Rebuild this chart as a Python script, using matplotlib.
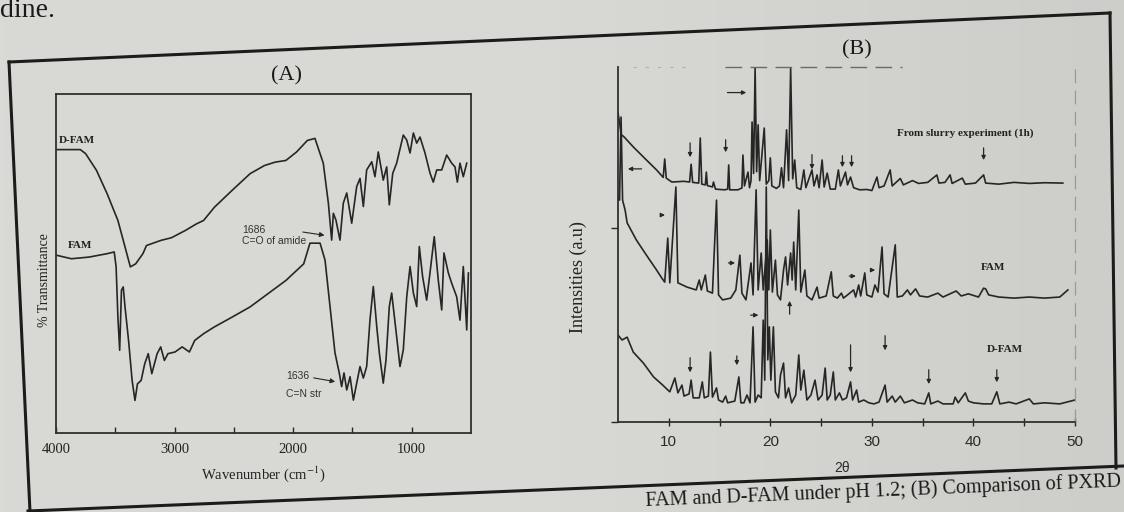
import matplotlib
matplotlib.use("Agg")
import matplotlib.pyplot as plt
import numpy as np
from matplotlib.lines import Line2D
from matplotlib.colors import LinearSegmentedColormap

# ---------------- Panel A: FTIR (% transmittance, relative units) ----------------
dfam_wn = [3990, 3795, 3750, 3659, 3569, 3478, 3418, 3373, 3328, 3267,
           3237, 3117, 3026, 2906, 2815, 2755, 2664, 2514, 2363, 2242,
           2152, 2061, 1971, 1880, 1816, 1746, 1703, 1675, 1661, 1639,
           1605, 1577, 1548, 1506, 1464, 1436, 1408, 1380, 1337, 1310,
           1282, 1240, 1211, 1189, 1160, 1127, 1071, 1042, 1014, 986,
           958, 930, 888, 846, 818, 789, 747, 705, 663, 635,
           615, 593, 565, 536]
dfam_t = [83.6, 83.6, 82.4, 77.5, 70.6, 62.7, 54.9, 49.0, 49.9, 52.9,
          55.3, 56.8, 57.6, 59.8, 61.7, 62.7, 66.6, 71.6, 76.5, 78.9,
          79.9, 80.4, 82.9, 86.3, 86.9, 79.6, 67.8, 56.9, 64.8, 62.8,
          56.9, 67.8, 70.8, 61.9, 72.7, 75.1, 66.8, 77.6, 80.0, 75.6,
          82.9, 74.6, 78.5, 67.3, 76.6, 79.6, 87.9, 86.4, 82.6, 88.5,
          85.5, 87.3, 82.6, 76.7, 74.0, 77.6, 77.6, 82.0, 79.6, 78.5,
          74.0, 79.6, 75.6, 79.6]

fam_wn = [3991, 3870, 3720, 3569, 3509, 3493, 3478, 3463, 3448, 3433,
          3418, 3388, 3358, 3334, 3313, 3282, 3252, 3222, 3192, 3147,
          3117, 3086, 3056, 2996, 2936, 2875, 2830, 2755, 2664, 2514,
          2363, 2212, 2061, 1911, 1858, 1773, 1731, 1689, 1647, 1611,
          1591, 1571, 1548, 1520, 1492, 1464, 1436, 1408, 1380, 1352,
          1324, 1295, 1273, 1240, 1217, 1189, 1169, 1127, 1099, 1071,
          1042, 1014, 986, 958, 936, 908, 874, 846, 810, 776,
          747, 728, 691, 663, 621, 593, 565, 536, 522]
fam_t = [52.4, 51.4, 51.9, 52.9, 53.4, 49.0, 34.2, 24.4, 42.1, 43.1,
         37.2, 27.3, 15.5, 9.6, 14.5, 15.5, 20.4, 23.4, 17.5, 23.4,
         25.4, 21.4, 23.4, 23.9, 25.4, 23.9, 27.3, 29.3, 31.3, 34.2,
         37.2, 41.1, 45.0, 49.9, 56.0, 56.0, 51.0, 37.3, 23.6, 17.7,
         13.7, 17.7, 12.7, 16.6, 9.7, 14.7, 19.6, 16.2, 19.6, 33.3,
         43.2, 31.4, 23.6, 14.7, 21.5, 37.3, 41.3, 28.4, 19.6, 24.5,
         40.2, 49.1, 41.3, 37.3, 55.0, 46.1, 39.2, 47.2, 57.9, 45.1,
         36.3, 53.1, 47.2, 44.2, 40.2, 33.3, 49.1, 30.4, 47.2]

a_major_ticks = [4000, 3000, 2000, 1000]
a_minor_ticks = [3500, 2500, 1500]

# ---------------- Panel B: PXRD (intensity, relative units) ----------------
slurry_2t = [5.0, 5.15, 5.3, 5.6, 6.5, 7.8, 8.8, 9.45, 9.6, 9.75,
             10.3, 11.5, 12.05, 12.2, 12.35, 12.95, 13.1, 13.25, 13.6, 13.7,
             13.8, 14.3, 14.4, 14.6, 15.5, 15.8, 15.9, 16.0, 16.8, 17.2,
             17.3, 17.45, 17.8, 17.95, 18.1, 18.2, 18.35, 18.5, 18.65, 18.8,
             18.95, 19.4, 19.6, 19.85, 20.0, 20.15, 20.6, 20.9, 21.1, 21.3,
             21.6, 21.8, 22.0, 22.2, 22.4, 22.6, 23.0, 23.3, 23.5, 24.1,
             24.3, 24.6, 24.8, 25.1, 25.3, 25.6, 25.9, 26.4, 26.7, 26.9,
             27.4, 27.6, 27.9, 28.2, 28.8, 29.5, 30.0, 30.5, 30.7, 31.2,
             31.8, 32.0, 32.8, 33.1, 34.0, 34.6, 35.5, 36.4, 36.6, 37.2,
             37.7, 37.9, 38.9, 39.2, 40.2, 41.0, 41.2, 42.5, 44.0, 45.5,
             47.0, 48.8]
slurry_i = [87.0, 84.5, 81.0, 80.3, 77.5, 73.8, 71.0, 68.9, 74.1, 68.7,
            67.6, 67.8, 67.6, 72.6, 67.5, 67.3, 80.0, 67.0, 66.8, 70.4,
            66.6, 66.2, 67.6, 65.6, 65.4, 65.6, 72.4, 65.4, 65.4, 65.9,
            75.2, 66.5, 70.4, 66.0, 68.0, 84.5, 70.0, 99.7, 70.5, 83.7,
            68.0, 82.8, 67.0, 68.0, 74.4, 66.5, 65.8, 66.5, 71.6, 66.0,
            82.3, 68.0, 99.7, 68.5, 73.8, 66.0, 65.5, 71.0, 66.0, 71.0,
            66.5, 69.6, 66.0, 73.8, 66.2, 70.1, 65.6, 65.6, 71.0, 66.5,
            70.4, 66.8, 69.0, 66.0, 65.4, 65.5, 65.2, 69.0, 66.0, 66.5,
            71.0, 66.5, 68.6, 66.8, 68.0, 67.2, 67.5, 69.6, 67.3, 67.5,
            69.6, 67.2, 68.7, 67.0, 67.3, 69.6, 67.3, 67.0, 67.5, 67.2,
            67.4, 67.3]

fam_2t = [5.0, 5.15, 5.3, 5.45, 5.7, 5.9, 6.8, 7.8, 8.8, 9.3,
          9.6, 9.9, 10.1, 10.7, 10.9, 11.8, 12.7, 13.0, 13.2, 13.6,
          13.8, 14.3, 14.7, 14.9, 15.3, 16.1, 16.6, 17.0, 17.2, 17.6,
          18.1, 18.3, 18.6, 18.8, 19.1, 19.3, 19.7, 19.85, 20.0, 20.2,
          20.5, 20.7, 21.0, 21.3, 21.5, 21.7, 22.0, 22.15, 22.3, 22.5,
          22.8, 23.0, 23.4, 23.6, 24.1, 24.6, 24.8, 25.5, 26.0, 26.2,
          26.6, 27.0, 27.2, 27.6, 28.2, 28.4, 28.7, 28.9, 29.3, 29.5,
          30.0, 30.3, 30.6, 31.0, 31.2, 31.6, 32.3, 32.5, 33.0, 33.5,
          33.8, 34.3, 34.7, 35.5, 36.5, 37.0, 38.3, 38.8, 39.5, 40.5,
          41.0, 41.2, 41.5, 42.5, 44.0, 45.5, 47.0, 48.5, 49.3]
fam_i = [63.4, 62.5, 85.9, 62.5, 59.7, 56.1, 51.3, 47.0, 42.8, 40.6,
         39.4, 51.8, 39.2, 66.2, 39.2, 38.0, 37.2, 40.0, 37.2, 41.4,
         36.9, 36.3, 62.5, 35.8, 34.4, 34.9, 37.2, 47.0, 36.3, 34.4,
         44.8, 35.8, 65.4, 37.2, 47.6, 37.2, 51.3, 37.2, 54.1, 36.6,
         45.6, 35.8, 34.4, 42.8, 46.5, 38.6, 47.6, 40.0, 50.7, 37.2,
         59.7, 36.6, 42.8, 35.5, 34.4, 38.0, 34.9, 35.5, 42.3, 35.5,
         34.9, 36.3, 34.9, 35.8, 37.2, 35.2, 38.6, 35.5, 42.0, 35.8,
         35.2, 38.6, 36.6, 49.3, 36.1, 35.2, 49.9, 35.2, 35.5, 37.2,
         35.8, 37.5, 35.5, 35.2, 36.3, 35.2, 36.9, 35.5, 36.1, 35.2,
         37.7, 37.5, 35.8, 35.2, 34.9, 35.2, 34.9, 35.2, 37.2]

dfam_2t = [5.0, 5.4, 5.9, 6.5, 7.5, 8.5, 9.4, 10.1, 10.6, 10.9,
           11.3, 11.5, 12.0, 12.2, 12.4, 13.0, 13.3, 13.5, 13.9, 14.1,
           14.3, 14.7, 14.9, 15.3, 15.6, 15.8, 16.5, 16.9, 17.1, 17.4,
           17.7, 18.0, 18.3, 18.5, 18.8, 19.1, 19.3, 19.45, 19.6, 19.75,
           19.9, 20.05, 20.3, 20.5, 20.8, 21.0, 21.3, 21.5, 21.8, 22.1,
           22.5, 22.8, 23.0, 23.3, 23.6, 24.0, 24.4, 24.7, 25.1, 25.4,
           25.6, 25.9, 26.2, 26.4, 26.8, 27.1, 27.5, 27.9, 28.1, 28.5,
           28.7, 29.2, 29.7, 30.2, 30.7, 31.3, 31.5, 32.0, 32.3, 32.8,
           33.2, 34.0, 34.5, 35.2, 35.6, 35.8, 36.5, 37.0, 38.0, 38.2,
           38.5, 39.2, 39.5, 40.0, 41.0, 41.8, 42.3, 42.6, 43.5, 44.2,
           45.5, 45.9, 47.0, 48.5, 50.0]
dfam_i = [24.5, 23.1, 23.9, 19.7, 16.6, 12.7, 10.4, 8.5, 12.4, 8.2,
          10.4, 7.3, 7.9, 11.8, 6.8, 6.8, 11.3, 6.8, 7.3, 19.7,
          7.0, 9.6, 6.2, 5.6, 7.3, 5.4, 5.9, 12.7, 5.4, 5.4,
          7.6, 5.4, 26.8, 5.6, 7.6, 6.8, 28.7, 11.8, 66.2, 17.5,
          26.8, 11.8, 26.8, 8.5, 6.8, 13.2, 16.6, 6.8, 9.6, 5.4,
          7.6, 18.9, 9.0, 14.6, 6.2, 7.6, 11.8, 6.2, 7.6, 15.2,
          6.2, 7.6, 14.1, 6.2, 8.2, 6.2, 6.8, 11.3, 6.2, 9.0,
          5.6, 6.2, 5.4, 5.1, 5.6, 10.4, 5.6, 7.3, 5.6, 7.3,
          5.4, 6.2, 5.4, 5.1, 8.2, 5.1, 5.9, 5.1, 5.1, 7.0,
          5.4, 8.2, 5.9, 5.4, 5.1, 5.1, 8.5, 5.1, 5.6, 5.1,
          6.5, 5.1, 5.4, 5.1, 6.2]

b_major_ticks = [10, 20, 30, 40, 50]
b_minor_ticks = [15, 25, 35, 45]

# marker arrows (2theta, start, end)
b_down_arrows = [(12.1, 79.4, 73.8), (15.6, 80.3, 75.2), (24.1, 76.1, 70.4),
                 (27.1, 75.8, 71.0), (28.0, 75.8, 71.0), (41.0, 78.0, 73.0),
                 (12.1, 18.9, 13.2), (16.7, 19.4, 15.2), (27.9, 22.5, 13.2),
                 (31.3, 25.1, 19.4), (35.6, 15.5, 9.9), (42.3, 15.5, 10.4)]
b_up_arrows = [(21.9, 29.6, 34.9)]
b_side_arrows = [(15.5, 17.9, 92.8), (7.6, 5.7, 71.3), (9.0, 9.9, 58.3),
                 (15.6, 16.8, 44.8), (27.5, 28.7, 41.1), (29.6, 30.6, 42.8),
                 (17.8, 19.1, 30.1)]

# ---------------- drawing ----------------
W, H = 1124, 512
SERIF = ["Liberation Serif", "DejaVu Serif"]
SANS = ["Liberation Sans", "DejaVu Sans"]
INK = "#262626"
plt.rcParams["mathtext.fontset"] = "stix"

fig = plt.figure(figsize=(W / 100, H / 100), dpi=100)
fig.patch.set_facecolor("#d5d5d1")

bg = fig.add_axes([0, 0, 1, 1], zorder=-10)
cmap = LinearSegmentedColormap.from_list("paper", ["#d9d9d5", "#d8d8d4", "#cdcdc9"])
bg.imshow(np.linspace(0, 1, 256)[None, :], aspect="auto", cmap=cmap,
          extent=[0, 1, 0, 1])
bg.axis("off")


def P(x, y):
    return (x / W, 1 - y / H)


# page frame
for (x0, y0), (x1, y1) in [((9, 62), (1110, 13)), ((1110, 13), (1116, 468)),
                           ((28, 511), (1124, 466)), ((9, 62), (30, 512))]:
    a, b = P(x0, y0), P(x1, y1)
    fig.add_artist(Line2D([a[0], b[0]], [a[1], b[1]], transform=fig.transFigure,
                          color="#1c1c1c", lw=2.2))

fig.text(*P(0, 17), "dine.", family=SERIF, fontsize=20, color="#1a1a1a",
         ha="left", va="baseline")
fig.text(*P(1121, 486), "FAM and D-FAM under pH 1.2; (B) Comparison of PXRD",
         family=SERIF, fontsize=14.5, color="#1a1a1a", ha="right", va="baseline",
         rotation=2.35, rotation_mode="anchor")

# ---- Panel A ----
axA = fig.add_axes([56 / W, 1 - 433 / H, (471 - 56) / W, (433 - 94) / H])
axA.set_facecolor("none")
axA.plot(dfam_wn, dfam_t, color=INK, lw=1.2)
axA.plot(fam_wn, fam_t, color=INK, lw=1.2)
axA.set_xlim(4000, 500)
axA.set_ylim(0, 100)
axA.set_xticks(a_major_ticks)
axA.set_xticks(a_minor_ticks, minor=True)
axA.set_yticks([])
axA.tick_params(axis="x", which="both", direction="in", length=4, width=1,
                color=INK, labelsize=10.5, pad=7, labelcolor="#222")
for lab in axA.get_xticklabels():
    lab.set_family(SERIF)
for s in axA.spines.values():
    s.set_color("#303030")
    s.set_linewidth(1.3)
axA.set_xlabel("Wavenumber (cm$^{-1}$)", family=SERIF, fontsize=10.5,
               color="#222", labelpad=6)
fig.text(*P(45, 280), "% Transmittance", family=SERIF, fontsize=10,
         rotation=90, ha="center", va="center", color="#222")
fig.text(*P(287, 76), "(A)", family=SERIF, fontsize=16, ha="center",
         va="center", color="#1a1a1a")

axA.text(3975, 85.6, "D-FAM", family=SERIF, fontsize=8, fontweight="bold",
         color="#222", va="baseline")
axA.text(3900, 54.6, "FAM", family=SERIF, fontsize=8, fontweight="bold",
         color="#222", va="baseline")
axA.text(2429, 60.0, "1686", family=SANS, fontsize=7.5, color="#333", va="center")
axA.text(2429, 56.6, "C=O of amide", family=SANS, fontsize=7.5, color="#333",
         va="center")
axA.annotate("", xy=(1712, 58.2), xytext=(1941, 59.4),
             arrowprops=dict(arrowstyle="-|>", color=INK, lw=0.8,
                             mutation_scale=7))
axA.text(2061, 16.8, "1636", family=SANS, fontsize=7.5, color="#333", va="center")
axA.text(2061, 11.6, "C=N str", family=SANS, fontsize=7.5, color="#333",
         va="center")
axA.annotate("", xy=(1622, 15.0), xytext=(1850, 16.4),
             arrowprops=dict(arrowstyle="-|>", color=INK, lw=0.8,
                             mutation_scale=7))

# ---- Panel B ----
axB = fig.add_axes([618 / W, 1 - 422 / H, (1075 - 618) / W, (422 - 67) / H])
axB.set_facecolor("none")
axB.plot(slurry_2t, slurry_i, color=INK, lw=1.2)
axB.plot(fam_2t, fam_i, color=INK, lw=1.2)
axB.plot(dfam_2t, dfam_i, color=INK, lw=1.2)
axB.set_xlim(5, 50)
axB.set_ylim(0, 100)
axB.set_xticks(b_major_ticks)
axB.set_xticks(b_minor_ticks, minor=True)
axB.set_yticks([0, 54.6])
axB.set_yticklabels([])
axB.tick_params(axis="x", which="both", direction="inout", length=6, width=1,
                color=INK, labelsize=11, pad=6, labelcolor="#2a2a2a")
axB.tick_params(axis="y", direction="out", length=5, width=1, color=INK)
for lab in axB.get_xticklabels():
    lab.set_family(SANS)
for k in ("left", "bottom"):
    axB.spines[k].set_color("#303030")
    axB.spines[k].set_linewidth(1.3)
axB.spines["top"].set_visible(False)
axB.spines["right"].set_color("#9a9a9a")
axB.spines["right"].set_linewidth(0.9)
axB.spines["right"].set_linestyle((0, (10, 7)))
# partial dashed top edge as printed
axB.plot([15.5, 33.0], [100, 100], color="#6a6a6a", lw=1.0,
         linestyle=(0, (12, 6)), clip_on=False)
axB.plot([6.5, 12.0], [100, 100], color="#b0b0b0", lw=0.8,
         linestyle=(0, (3, 8)), clip_on=False)

fig.text(*P(578, 277), "Intensities (a.u)", family=SERIF, fontsize=13,
         rotation=90, ha="center", va="center", color="#222")
fig.text(*P(842, 468), "2θ", family=SANS, fontsize=10, ha="center",
         va="center", color="#2a2a2a")
fig.text(*P(857, 50), "(B)", family=SERIF, fontsize=16, ha="center",
         va="center", color="#1a1a1a")

axB.text(39.2, 81.4, "From slurry experiment (1h)", family=SERIF, fontsize=8,
         fontweight="bold", ha="center", va="center", color="#222")
axB.text(41.9, 43.4, "FAM", family=SERIF, fontsize=8, fontweight="bold",
         ha="center", va="center", color="#222")
axB.text(43.1, 20.3, "D-FAM", family=SERIF, fontsize=8, fontweight="bold",
         ha="center", va="center", color="#222")

aprops = dict(arrowstyle="-|>", color=INK, lw=0.9, mutation_scale=6)
for x, y0, y1 in b_down_arrows + b_up_arrows:
    axB.annotate("", xy=(x, y1), xytext=(x, y0), arrowprops=aprops)
for x0, x1, y in b_side_arrows:
    axB.annotate("", xy=(x1, y), xytext=(x0, y), arrowprops=aprops)

fig.savefig("out.png", dpi=100, facecolor=fig.get_facecolor())
